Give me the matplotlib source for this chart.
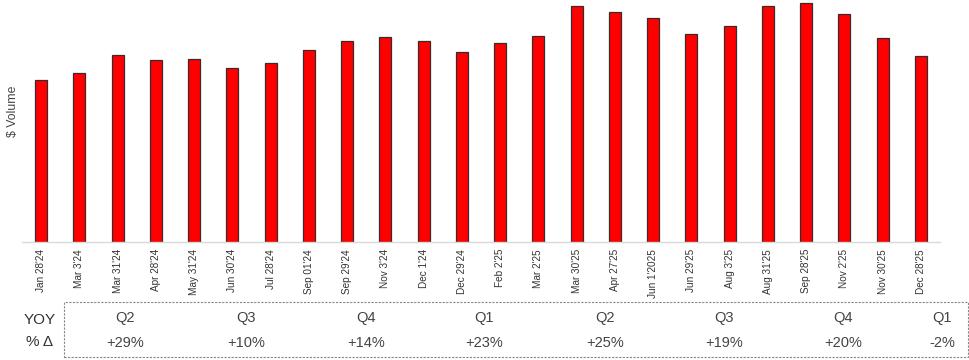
import matplotlib.pyplot as plt
from matplotlib.patches import Rectangle

W, H = 970, 360
DPI = 100

periods = ["Jan 28'24", "Mar 3'24", "Mar 31'24", "Apr 28'24", "May 31'24", "Jun 30'24",
           "Jul 28'24", "Sep 01'24", "Sep 29'24", "Nov 3'24", "Dec 1'24", "Dec 29'24",
           "Feb 2'25", "Mar 2'25", "Mar 30'25", "Apr 27'25", "Jun 1'2025", "Jun 29'25",
           "Aug 3'25", "Aug 31'25", "Sep 28'25", "Nov 2'25", "Nov 30'25", "Dec 28'25"]
volume = [162, 169, 187, 182, 183, 174, 179, 192, 201, 205, 201, 190,
          199, 206, 236, 230, 224, 208, 216, 236, 239, 228, 204, 186]

quarters = ["Q2", "Q3", "Q4", "Q1", "Q2", "Q3", "Q4", "Q1"]
yoy = ["+29%", "+10%", "+14%", "+23%", "+25%", "+19%", "+20%", "-2%"]
quarter_x = [125, 246, 366, 484, 605, 724, 843, 942]  # pixel centres in the strip

FONT = ['Liberation Sans Narrow', 'Liberation Sans', 'DejaVu Sans']
plt.rcParams['font.family'] = FONT

fig = plt.figure(figsize=(W / DPI, H / DPI), dpi=DPI)
ax = fig.add_axes([22 / W, (H - 242) / H, (940 - 22) / W, 242 / H])

x = range(len(volume))
ax.bar(x, volume, width=0.32, color='#ff0000', edgecolor='#3a2a2a', linewidth=0.9)
ax.set_xlim(-0.5, len(volume) - 0.5)
ax.set_ylim(0, 242)
ax.set_yticks([])
ax.set_xticks(list(x))
ax.set_xticklabels(periods, rotation=90, fontsize=7.2, color='#333333')
ax.tick_params(axis='x', length=0, pad=5)
for s in ['top', 'right', 'left']:
    ax.spines[s].set_visible(False)
ax.spines['bottom'].set_color('#d9d9d9')
ax.spines['bottom'].set_linewidth(1.0)

fig.text(13 / W, 1 - 111 / H, "$ Volume", rotation=90, fontsize=8.8,
         color='#444444', ha='center', va='center')

# YOY strip underneath
fig.patches.append(Rectangle((64 / W, 3 / H), 904 / W, 55 / H, transform=fig.transFigure,
                             fill=False, edgecolor='#888888', linestyle=(0, (2, 1.2)),
                             linewidth=0.8))
fig.text(40 / W, 1 - 320 / H, "YOY", fontsize=11, color='#333333', ha='center', va='center')
fig.text(40 / W, 1 - 342 / H, "% Δ", fontsize=11, color='#333333', ha='center', va='center')
for q, p, px in zip(quarters, yoy, quarter_x):
    fig.text(px / W, 1 - 318 / H, q, fontsize=10.5, color='#444444', ha='center', va='center')
    fig.text(px / W, 1 - 343 / H, p, fontsize=10.5, color='#444444', ha='center', va='center')

fig.savefig('out.png', dpi=DPI)
